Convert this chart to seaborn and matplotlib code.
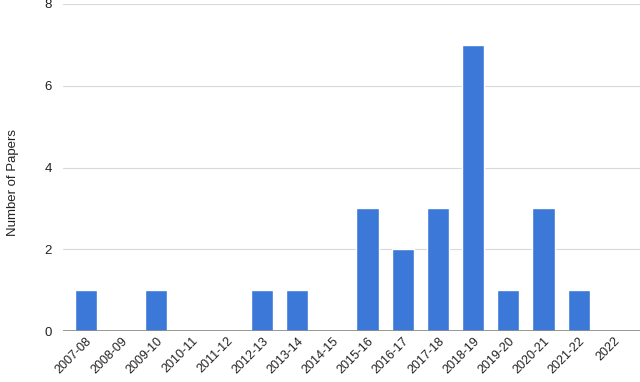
import matplotlib
matplotlib.use("Agg")
import matplotlib.pyplot as plt
import seaborn as sns
import pandas as pd

categories = ["2007-08", "2008-09", "2009-10", "2010-11", "2011-12", "2012-13", "2013-14",
              "2014-15", "2015-16", "2016-17", "2017-18", "2018-19", "2019-20", "2020-21",
              "2021-22", "2022"]
papers = [1, 0, 1, 0, 0, 1, 1, 0, 3, 2, 3, 7, 1, 3, 1, 0]
yticks = [0, 2, 4, 6, 8]

sns.set_style("white")
plt.rcParams['font.family'] = ['Liberation Sans', 'DejaVu Sans']

df = pd.DataFrame({"Period": categories, "Papers": papers})

fig = plt.figure(figsize=(6.4, 3.82), dpi=100)
ax = fig.add_axes([63/640, 1 - 331/382, 1 - 63/640, (331 - 4)/382])
sns.barplot(data=df, x="Period", y="Papers", color="#3c78d8", saturation=1, width=0.63, ax=ax, zorder=3)

ax.set_xlim(-0.65, 15.74)
ax.set_ylim(0, 8)
ax.set_yticks(yticks)
ax.set_yticklabels([str(t) for t in yticks], fontsize=9.5, color="#222222")
ax.yaxis.grid(True, color="#d9d9d9", linewidth=0.8, zorder=0)
ax.axhline(0, color="#888888", linewidth=1.2, zorder=4)
for s in ax.spines.values():
    s.set_visible(False)
ax.tick_params(axis="y", length=0, pad=8)
ax.tick_params(axis="x", length=0, pad=3)
plt.setp(ax.get_xticklabels(), rotation=45, ha="right", rotation_mode="anchor", fontsize=9, color="#222222")
ax.set_xlabel("")
ax.set_ylabel("Number of Papers", fontsize=9.5, color="#222222")
ax.yaxis.set_label_coords(-44/577, (331 - 182)/327)

fig.savefig("out.png", dpi=100)
